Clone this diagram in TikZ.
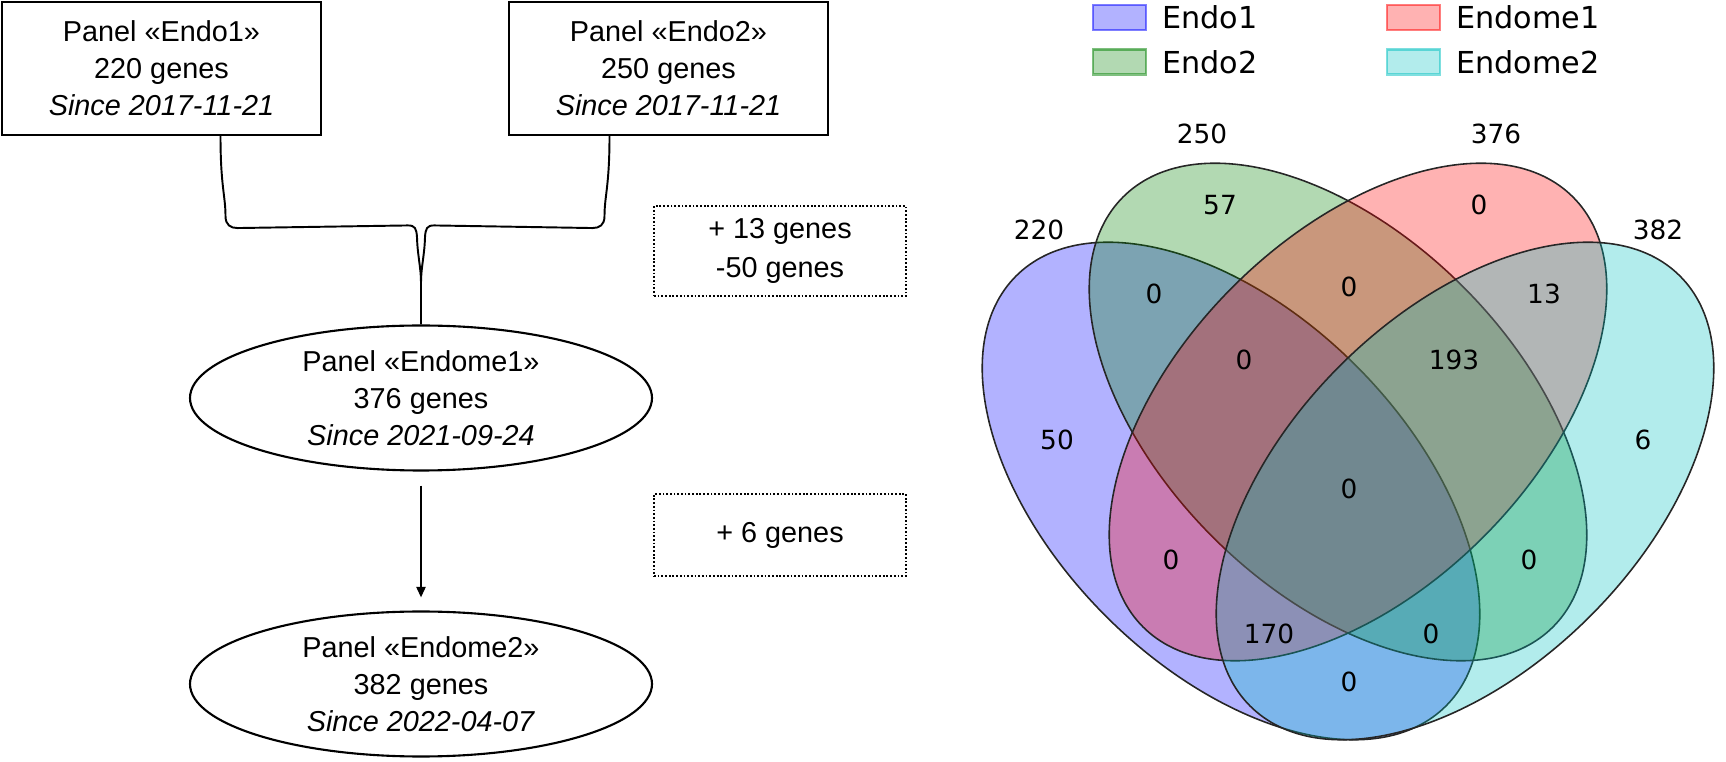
\documentclass[tikz,border=0pt]{standalone}
\usepackage{fontspec}
\setmainfont{Liberation Sans}
\newfontfamily\vennfont{DejaVu Sans}
\usepackage{tikz}
\usetikzlibrary{arrows.meta, positioning, shapes.geometric}
\definecolor{vennblue}{rgb}{0,0,1}
\definecolor{venngreen}{rgb}{0,0.5,0}
\definecolor{vennred}{rgb}{1,0,0}
\definecolor{venncyan}{rgb}{0,0.75,0.75}

\begin{document}
\begin{tikzpicture}[
    panel/.style={draw, line width=0.6pt, align=center, inner sep=0pt, font=\fontsize{8.2}{10.5}\selectfont},
    panelbox/.style={panel, rectangle, minimum width=3.19cm, minimum height=1.33cm},
    panelell/.style={panel, ellipse, minimum width=4.62cm, minimum height=1.45cm},
    changebox/.style={draw, line width=0.5pt, dash pattern=on 0.5pt off 0.55pt, align=center, inner sep=0pt, minimum width=2.52cm, font=\fontsize{8.2}{11}\selectfont},
    link/.style={line width=0.55pt},
    venn/.style={draw=black!85, line width=0.45pt, fill opacity=0.3},
    count/.style={font=\vennfont\fontsize{7.5}{9}\selectfont},
    legpatch/.style={minimum width=0.53cm, minimum height=0.25cm, inner sep=0pt, line width=0.8pt, fill opacity=0.3, draw opacity=0.5},
    legtext/.style={font=\vennfont\fontsize{8.6}{10}\selectfont, inner sep=0pt},
]
\useasboundingbox (0,0) rectangle (17.26,7.62);

    % Panels
    \node[panelbox] (endo1) at (1.615,6.935) {Panel «Endo1»\\220 genes\\\textit{Since 2017-11-21}};
    \node[panelbox] (endo2) at (6.685,6.935) {Panel «Endo2»\\250 genes\\\textit{Since 2017-11-21}};
    \node[panelell] (endome1) at (4.21,3.64) {Panel «Endome1»\\376 genes\\\textit{Since 2021-09-24}};
    \node[panelell] (endome2) at (4.21,0.78) {Panel «Endome2»\\382 genes\\\textit{Since 2022-04-07}};

    % Changes
    \node[changebox, minimum height=0.90cm] (chg1) at (7.80,5.11) {+ 13 genes\\-50 genes};
    \node[changebox, minimum height=0.82cm] (chg2) at (7.80,2.27) {+ 6 genes};

    % Merge into Endome1
    \coordinate (fork) at ([yshift=0.99cm]endome1.north);
    \draw[link] ([xshift=0.59cm]endo1.south) .. controls +(0,-0.5) and +(0,0.2) .. ++(0.05,-0.8)
        .. controls +(0,-0.09) and +(-0.07,0) .. ++(0.12,-0.12) -- ([xshift=-0.13cm]fork)
        .. controls ([xshift=-0.06cm]fork) and ([xshift=-0.045cm,yshift=-0.03cm]fork) .. ([xshift=-0.04cm,yshift=-0.12cm]fork)
        .. controls ([xshift=-0.035cm,yshift=-0.3cm]fork) and ([yshift=-0.42cm]fork) .. ([yshift=-0.57cm]fork) -- (endome1.north);
    \draw[link] ([xshift=-0.59cm]endo2.south) .. controls +(0,-0.5) and +(0,0.2) .. ++(-0.05,-0.8)
        .. controls +(0,-0.09) and +(0.07,0) .. ++(-0.12,-0.12) -- ([xshift=0.13cm]fork)
        .. controls ([xshift=0.06cm]fork) and ([xshift=0.045cm,yshift=-0.03cm]fork) .. ([xshift=0.04cm,yshift=-0.12cm]fork)
        .. controls ([xshift=0.035cm,yshift=-0.3cm]fork) and ([yshift=-0.42cm]fork) .. ([yshift=-0.57cm]fork);

    % Update
    \draw[link, -{Triangle[length=3pt, width=2.6pt]}, shorten <=0.14cm, shorten >=0.13cm] (endome1) -- (endome2);

    % Venn diagram
    \draw[venn, fill=vennblue] (12.31,2.71) ellipse [x radius=3.04, y radius=1.77, rotate=135];
    \draw[venn, fill=venngreen] (13.38,3.50) ellipse [x radius=3.04, y radius=1.77, rotate=135];
    \draw[venn, fill=vennred] (13.58,3.50) ellipse [x radius=3.04, y radius=1.77, rotate=45];
    \draw[venn, fill=venncyan] (14.65,2.71) ellipse [x radius=3.04, y radius=1.77, rotate=45];

    % Set sizes
    \node[count] (s1) at (10.39,5.32) {220};
    \node[count] (s2) at (12.02,6.28) {250};
    \node[count] (s3) at (14.96,6.28) {376};
    \node[count] (s4) at (16.58,5.32) {382};

    % Counts
    \node[count] (c0100) at (12.20,5.57) {57};
    \node[count] (c0010) at (14.79,5.57) {0};
    \node[count] (c1100) at (11.54,4.68) {0};
    \node[count] (c0110) at (13.49,4.75) {0};
    \node[count] (c0011) at (15.44,4.68) {13};
    \node[count] (c1110) at (12.44,4.02) {0};
    \node[count] (c0111) at (14.54,4.02) {193};
    \node[count] (c1000) at (10.57,3.22) {50};
    \node[count] (c0001) at (16.43,3.22) {6};
    \node[count] (c1111) at (13.49,2.73) {0};
    \node[count] (c1010) at (11.71,2.02) {0};
    \node[count] (c0101) at (15.29,2.02) {0};
    \node[count] (c1011) at (12.69,1.28) {170};
    \node[count] (c1101) at (14.31,1.28) {0};
    \node[count] (c1001) at (13.49,0.80) {0};

    % Legend
    \node[legpatch, fill=vennblue, draw=vennblue] (lp1) at (11.195,7.445) {};
    \node[legpatch, fill=venngreen, draw=venngreen] (lp2) at (11.195,7.00) {};
    \node[legpatch, fill=vennred, draw=vennred] (lp3) at (14.135,7.445) {};
    \node[legpatch, fill=venncyan, draw=venncyan] (lp4) at (14.135,7.00) {};
    \node[legtext, right=0.14cm of lp1] (lt1) {Endo1};
    \node[legtext, right=0.14cm of lp2] (lt2) {Endo2};
    \node[legtext, right=0.14cm of lp3] (lt3) {Endome1};
    \node[legtext, right=0.14cm of lp4] (lt4) {Endome2};
\end{tikzpicture}
\end{document}
